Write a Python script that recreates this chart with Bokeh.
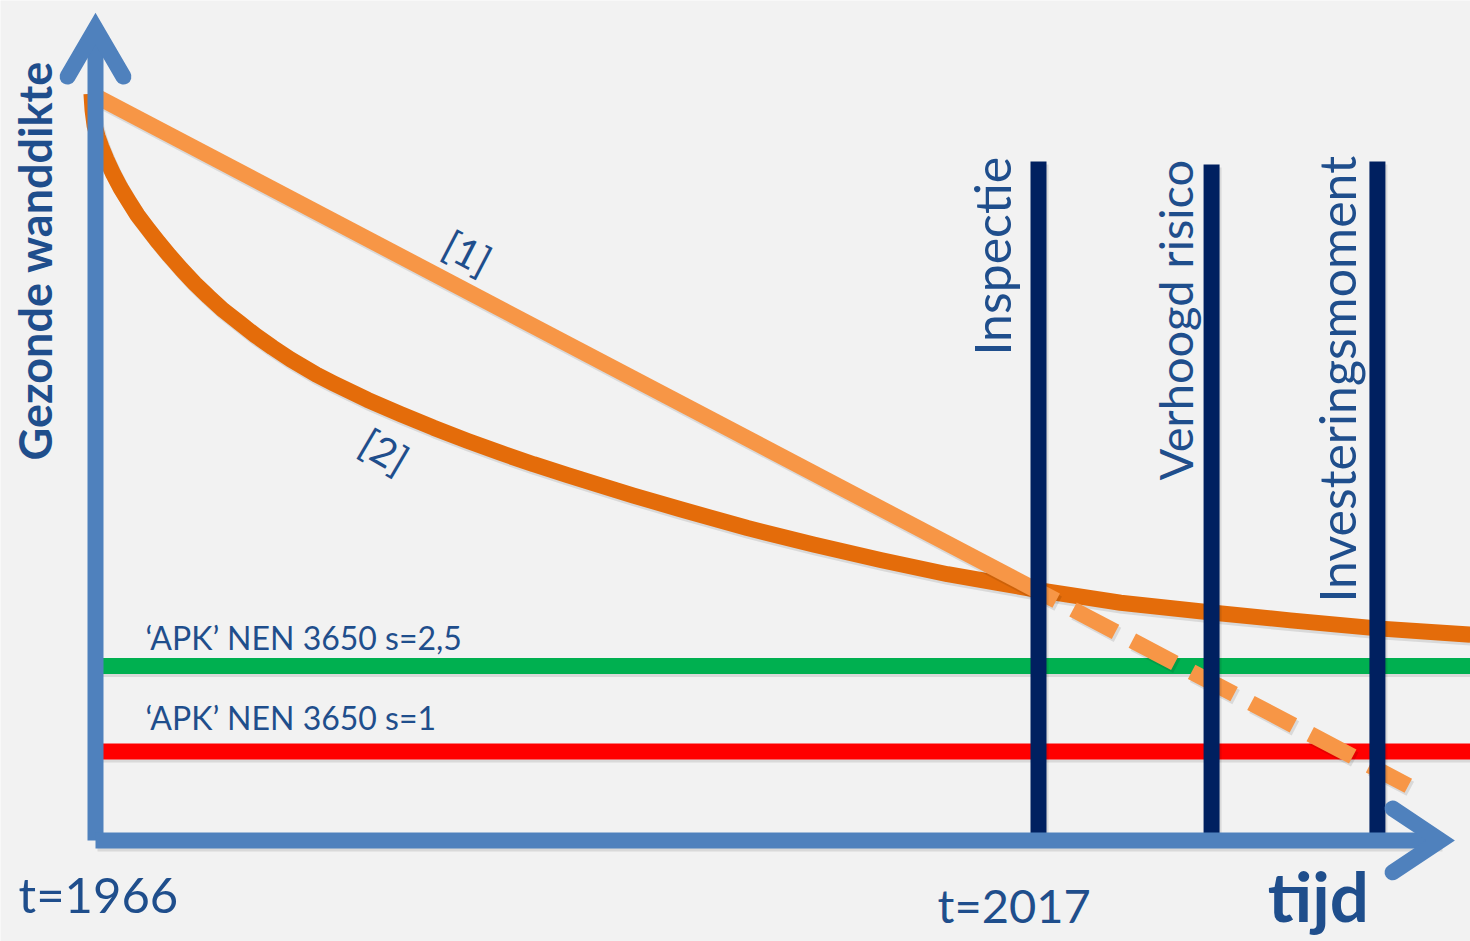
from bokeh.plotting import figure
from bokeh.models import Range1d
from bokeh.core.properties import value
from bokeh.embed import file_html
from bokeh.resources import INLINE
import math

# ---------------- data ----------------
# curve [1]: linear wall loss (solid until inspection, dashed extrapolation)
line1_years = [1966, 2017]
line1_wall = [12.5, 3.81]
line1_ext_years = [2017, 2037]
line1_ext_wall = [3.81, 0.40]

# curve [2]: fast initial loss, levelling off
line2_years = [1965.78, 1965.84, 1965.95, 1966.11, 1966.31, 1966.59, 1966.96,
               1967.35, 1967.80, 1968.27, 1968.81, 1969.41, 1970.00, 1970.65,
               1971.37, 1972.11, 1972.92, 1973.79, 1974.65, 1975.57, 1976.55,
               1977.95, 1978.87, 1980.71, 1982.50, 1984.28, 1986.12, 1987.90,
               1989.69, 1991.53, 1993.31, 1995.10, 1997.64, 2001.26, 2004.83,
               2008.46, 2012.08, 2014.78, 2017.00, 2021.44, 2026.36, 2030.63,
               2035.33, 2040.36]
line2_wall = [12.54, 12.25, 11.98, 11.79, 11.61, 11.39, 11.13,
              10.89, 10.65, 10.41, 10.18, 9.93, 9.70, 9.46,
              9.21, 8.98, 8.74, 8.52, 8.30, 8.09, 7.88,
              7.61, 7.46, 7.17, 6.92, 6.68, 6.45, 6.24,
              6.04, 5.85, 5.67, 5.49, 5.25, 4.92, 4.63,
              4.36, 4.11, 3.96, 3.83, 3.61, 3.44, 3.30,
              3.16, 3.05]

# NEN 3650 limits
norm_values = [2.5, 1.0]
norm_labels = ["\u2018APK\u2019 NEN 3650 s=2,5", "\u2018APK\u2019 NEN 3650 s=1"]
norm_colors = ["#00b050", "#ff0000"]
norm_label_x = [1968.70, 1968.70]
norm_label_y = [2.807, 1.404]          # baseline position

# events (vertical markers)
event_labels = ["Inspectie", "Verhoogd risico", "Investeringsmoment"]
event_years = [2017.0, 2026.36, 2035.33]
event_tops = [11.35, 11.30, 11.35]
event_label_x = [2015.38, 2025.27, 2034.04]   # baseline position (rotated text)
event_label_y = [7.947, 5.754, 3.614]         # start of text
event_label_size = [50, 47, 50]

# axes
t_start = 1966
t_end_arrow = 2038.74
axis_y = -0.56
y_top_arrow = 13.68

# curve labels
curve_labels = ["[1]", "[2]"]
curve_label_x = [1986.12, 1981.63]
curve_label_y = [9.754, 6.268]
curve_label_angle = [-0.48, -0.53]

# time labels
time_labels = ["t=1966", "t=2017"]
time_label_x = [1961.84, 2011.54]
time_label_y = [-1.80, -1.965]
time_label_size = [49, 47]
axis_title_x = ["tijd", 2029.40, -1.930]
axis_title_y = ["Gezonde wanddikte", 1963.57, 6.105]

FONT = value("Lato")
TXT = "#1f4e8c"
AXIS = "#4f81bd"
NAVY = "#002060"
LW = 16

PX_PER_YEAR = 1470 / (2040.364 - 1960.862)
PX_PER_UNIT = 941 / (14.175 + 2.333)
BASE = 0.34   # baseline correction (fraction of font size)
SDX = 2 / PX_PER_YEAR      # soft shadow offset
SDY = -3 / PX_PER_UNIT
SHADOW = dict(line_color="#000000", line_alpha=0.10, line_width=LW)


def up(ys, size):
    return [y + BASE * size / PX_PER_UNIT for y in ys]


def left(xs, size):
    return [x - BASE * size / PX_PER_YEAR for x in xs]


def sx(xs):
    return [x + SDX for x in xs]


def sy(ys):
    return [y + SDY for y in ys]


p = figure(width=1470, height=941,
           x_range=Range1d(1960.862, 2040.364), y_range=Range1d(-2.333, 14.175),
           output_backend="svg", toolbar_location=None, min_border=0,
           background_fill_color="#f2f2f2", border_fill_color="#f2f2f2")
p.axis.visible = False
p.grid.visible = False
p.outline_line_color = None

# norm lines
for v, c in zip(norm_values, norm_colors):
    p.line(sx([t_start, 2041]), sy([v, v]), **SHADOW)
    p.line([t_start, 2041], [v, v], line_color=c, line_width=LW)

# curve 2 (dark orange)
p.line(sx(line2_years), sy(line2_wall), line_join="round", **SHADOW)
p.line(line2_years, line2_wall, line_color="#e46c0a", line_width=LW,
       line_join="round")

# curve 1 (light orange)
p.line(sx(line1_years), sy(line1_wall), **SHADOW)
p.line(line1_years, line1_wall, line_color="#f79646", line_width=LW)
p.line(sx(line1_ext_years), sy(line1_ext_wall), line_dash="48 19",
       line_dash_offset=28, **SHADOW)
p.line(line1_ext_years, line1_ext_wall, line_color="#f79646", line_width=LW,
       line_dash="48 19", line_dash_offset=28)

# event lines
p.segment(x0=sx(event_years), y0=sy(event_tops), x1=sx(event_years),
          y1=[axis_y] * len(event_years), **SHADOW)
p.segment(x0=event_years, y0=event_tops, x1=event_years,
          y1=[axis_y] * len(event_years), line_color=NAVY, line_width=LW)

# axes with arrows
p.line(sx([t_start, t_end_arrow]), sy([axis_y, axis_y]), **SHADOW)
p.line([t_start, t_start], [axis_y, y_top_arrow], line_color=AXIS, line_width=LW)
p.line([t_start, t_end_arrow], [axis_y, axis_y], line_color=AXIS, line_width=LW)
p.line([1964.49, t_start, 1967.51], [12.84, y_top_arrow, 12.84],
       line_color=AXIS, line_width=LW, line_join="miter", line_cap="round")
p.line([2036.15, t_end_arrow, 2036.15], [0.0, axis_y, -1.12],
       line_color=AXIS, line_width=LW, line_join="miter", line_cap="round")

# texts
p.text(x=norm_label_x, y=up(norm_label_y, 32), text=norm_labels, text_font=FONT,
       text_font_size=value("32px"), text_color=TXT,
       text_align="left", text_baseline="alphabetic")

for lab, lx, ly, sz in zip(event_labels, event_label_x, event_label_y, event_label_size):
    p.text(x=left([lx], sz), y=[ly], text=[lab], angle=math.pi / 2,
           text_font=FONT, text_font_size=value(f"{sz}px"), text_color=TXT,
           text_align="left", text_baseline="alphabetic")

p.text(x=curve_label_x, y=curve_label_y, text=curve_labels, angle=curve_label_angle,
       text_font=FONT, text_font_size=value("40px"), text_color=TXT,
       text_align="center", text_baseline="middle")

for lab, lx, ly, sz in zip(time_labels, time_label_x, time_label_y, time_label_size):
    p.text(x=[lx], y=up([ly], sz), text=[lab], text_font=FONT,
           text_font_size=value(f"{sz}px"), text_color=TXT,
           text_align="left", text_baseline="alphabetic")

p.text(x=[axis_title_x[1]], y=up([axis_title_x[2]], 69), text=[axis_title_x[0]],
       text_font=FONT, text_font_size=value("69px"), text_font_style="bold",
       text_color=TXT, text_align="left", text_baseline="alphabetic")

p.text(x=left([axis_title_y[1]], 45), y=[axis_title_y[2]], text=[axis_title_y[0]],
       angle=math.pi / 2, text_font=FONT, text_font_size=value("45px"),
       text_font_style="bold", text_color=TXT,
       text_align="left", text_baseline="alphabetic")

open("out.html", "w").write(file_html(p, INLINE))
